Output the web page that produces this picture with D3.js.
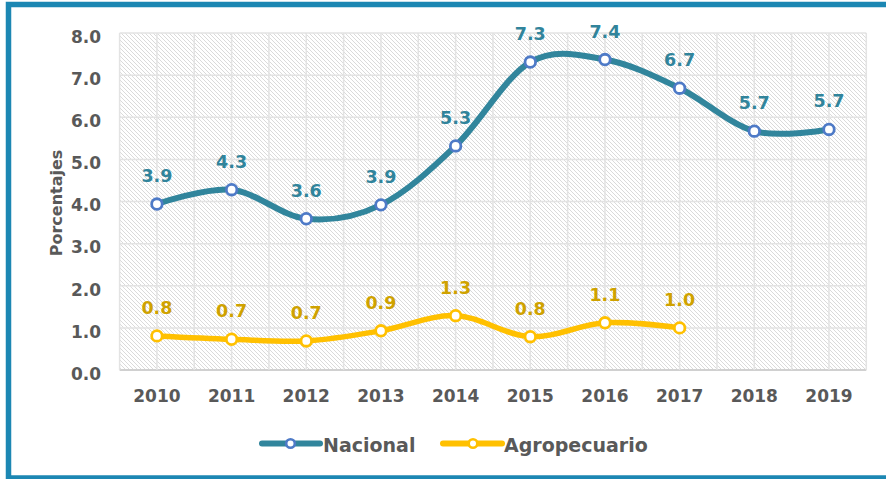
<!DOCTYPE html>
<html><head><meta charset="utf-8">
<script src="https://cdn.jsdelivr.net/npm/d3@7"></script>
<style>body{margin:0;background:#fff}svg{display:block}text{font-family:"DejaVu Sans",Verdana,sans-serif;font-weight:bold}</style>
</head><body>
<svg id="c" width="886" height="479"></svg>
<script>
const years = ["2010","2011","2012","2013","2014","2015","2016","2017","2018","2019"];
const nacional = [3.94, 4.28, 3.59, 3.92, 5.32, 7.31, 7.37, 6.69, 5.67, 5.71];
const agropecuario = [0.81, 0.73, 0.69, 0.93, 1.29, 0.79, 1.12, 1.0];
const yTicks = [0,1,2,3,4,5,6,7,8];
const seriesNames = ["Nacional","Agropecuario"];

const svg = d3.select("#c");
const L = 119.6, R = 866.3, T = 33, B = 370;
const x = d3.scaleBand().domain(years).range([L, R]).padding(0);
const y = d3.scaleLinear().domain([0, 8]).range([B, T]);
const cx = d => x(d) + x.bandwidth()/2;

// frame
svg.append("rect").attr("x",8.5).attr("y",4.5).attr("width",900).attr("height",473.5)
  .attr("fill","#fff").attr("stroke","#1C87B3").attr("stroke-width",5.5);

// hatch pattern
const defs = svg.append("defs");
const pat = defs.append("pattern").attr("id","hatch").attr("patternUnits","userSpaceOnUse")
  .attr("width",4).attr("height",4);
pat.append("path").attr("d","M-1,-1 L5,5 M-1,3 L1,5 M3,-1 L5,1").attr("stroke","#dadada").attr("stroke-width",1);
svg.append("rect").attr("x",L).attr("y",T).attr("width",R-L).attr("height",B-T).attr("fill","url(#hatch)");

// gridlines
const g = svg.append("g");
yTicks.forEach(t => {
  g.append("line").attr("x1",L).attr("x2",R).attr("y1",y(t)).attr("y2",y(t))
   .attr("stroke", t===0 ? "#d0d0d0" : "#e3e3e3").attr("stroke-width", t===0 ? 2 : 1.5);
});
const vx = [];
years.forEach(yr => { vx.push(x(yr)); vx.push(cx(yr)); });
vx.push(R);
vx.forEach(v => g.append("line").attr("x1",v).attr("x2",v).attr("y1",T).attr("y2",B)
  .attr("stroke","#e3e3e3").attr("stroke-width",1.5));

// axes (tick labels via d3 axes)
const yAxis = svg.append("g").attr("transform",`translate(${101},0)`)
  .call(d3.axisLeft(y).tickValues(yTicks).tickFormat(d3.format(".1f")).tickSize(0).tickPadding(0));
yAxis.select(".domain").remove();
yAxis.selectAll("text").attr("font-size",17).attr("fill","#595959").attr("dy","0.55em")
  .style("font-family",'"DejaVu Sans",Verdana,sans-serif').style("font-weight","bold");

const xAxis = svg.append("g").attr("transform",`translate(0,${B})`)
  .call(d3.axisBottom(x).tickSize(0).tickPadding(0));
xAxis.select(".domain").remove();
xAxis.selectAll("text").attr("font-size",17).attr("fill","#595959").attr("y",31.5).attr("dy",0)
  .style("font-family",'"DejaVu Sans",Verdana,sans-serif').style("font-weight","bold");

svg.append("text").attr("transform","translate(62,203) rotate(-90)").attr("text-anchor","middle")
  .attr("font-size",16).attr("fill","#595959").text("Porcentajes");

// series
const series = [
  {name: seriesNames[0], vals: nacional, line:"#31859C", mk:"#4E7AC7", lab:"#31849B", w:6},
  {name: seriesNames[1], vals: agropecuario, line:"#FFC000", mk:"#FFC000", lab:"#CFA200", w:5.5}
];
series.forEach(s => {
  const pts = s.vals.map((v,i) => [cx(years[i]), y(v), v]);
  svg.append("path").attr("d", d3.line().curve(d3.curveCardinal.tension(0))(pts.map(p=>[p[0],p[1]])))
    .attr("fill","none").attr("stroke",s.line).attr("stroke-width",s.w).attr("stroke-linecap","round");
  pts.forEach(p => {
    svg.append("circle").attr("cx",p[0]).attr("cy",p[1]).attr("r",5.3)
      .attr("fill","#fff").attr("stroke",s.mk).attr("stroke-width",2.8);
    svg.append("text").attr("x",p[0]).attr("y",p[1]-22).attr("text-anchor","middle")
      .attr("font-size",17.5).attr("fill",s.lab).text(d3.format(".1f")(p[2]));
  });
});

// legend
const leg = [{s:series[0], x1:262, x2:320, mx:290.5, tx:323}, {s:series[1], x1:443, x2:502, mx:473, tx:504}];
leg.forEach(l => {
  svg.append("line").attr("x1",l.x1).attr("x2",l.x2).attr("y1",443.5).attr("y2",443.5)
    .attr("stroke",l.s.line).attr("stroke-width",6).attr("stroke-linecap","round");
  svg.append("circle").attr("cx",l.mx).attr("cy",443.5).attr("r",4.3)
    .attr("fill","#fff").attr("stroke",l.s.mk).attr("stroke-width",2.6);
  svg.append("text").attr("x",l.tx).attr("y",451.5).attr("font-size",19).attr("fill","#595959").text(l.s.name);
});
</script>
</body></html>
